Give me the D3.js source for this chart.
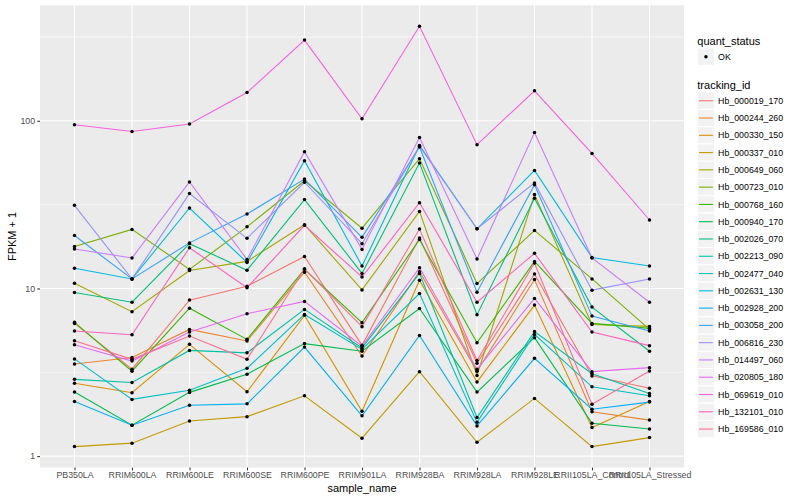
<!DOCTYPE html>
<html><head><meta charset="utf-8">
<script src="https://cdn.jsdelivr.net/npm/d3@7"></script>
<style>body{margin:0;background:#fff;} svg{display:block;font-family:"Liberation Sans",Arial,Helvetica,sans-serif;}</style>
</head><body><svg id="c" width="800" height="500"></svg>
<script>
// ---------- data ----------
const samples = ["PB350LA","RRIM600LA","RRIM600LE","RRIM600SE","RRIM600PE","RRIM901LA","RRIM928BA","RRIM928LA","RRIM928LE","RRII105LA_Control","RRII105LA_Stressed"];
const trackingIds = ["Hb_000019_170","Hb_000244_260","Hb_000330_150","Hb_000337_010","Hb_000649_060","Hb_000723_010","Hb_000768_160","Hb_000940_170","Hb_002026_070","Hb_002213_090","Hb_002477_040","Hb_002631_130","Hb_002928_200","Hb_003058_200","Hb_006816_230","Hb_014497_060","Hb_020805_180","Hb_069619_010","Hb_132101_010","Hb_169586_010"];
const quantStatus = ["OK"];
// FPKM + 1 values, one array per tracking id, in sample order
const Hb_000019_170 = [6.19, 3.30, 8.52, 10.3, 15.5, 4.58, 20.0, 3.58, 12.2, 3.01, 2.54];
const Hb_000244_260 = [3.54, 3.87, 5.70, 4.86, 12.5, 3.95, 12.6, 3.21, 11.3, 1.84, 1.64];
const Hb_000330_150 = [2.72, 2.39, 4.64, 2.42, 6.91, 1.85, 11.2, 2.77, 7.96, 1.48, 2.12];
const Hb_000337_010 = [1.14, 1.195, 1.62, 1.72, 2.29, 1.28, 3.19, 1.21, 2.21, 1.14, 1.29];
const Hb_000649_060 = [10.75, 7.27, 12.8, 14.5, 24.0, 9.8, 28.8, 3.03, 36.3, 6.10, 5.94];
const Hb_000723_010 = [17.8, 22.5, 13.0, 23.3, 43.9, 22.9, 59.4, 10.7, 22.2, 11.4, 5.70];
const Hb_000768_160 = [6.28, 3.21, 7.63, 4.97, 13.0, 6.25, 19.6, 4.74, 14.5, 6.19, 5.78];
const Hb_000940_170 = [2.41, 1.53, 2.40, 3.08, 4.69, 4.22, 7.60, 2.41, 5.09, 1.57, 1.45];
const Hb_002026_070 = [9.47, 8.28, 18.5, 12.85, 33.9, 12.3, 56.0, 6.97, 34.5, 7.74, 4.22];
const Hb_002213_090 = [2.87, 2.75, 4.27, 4.13, 7.50, 4.42, 12.3, 1.70, 5.53, 3.10, 2.36];
const Hb_002477_040 = [3.80, 2.18, 2.47, 3.34, 7.00, 4.33, 9.33, 1.59, 5.32, 2.59, 2.29];
const Hb_002631_130 = [13.2, 11.4, 30.2, 14.3, 57.8, 13.6, 71.3, 22.7, 50.6, 15.3, 13.6];
const Hb_002928_200 = [2.12, 1.53, 2.01, 2.05, 4.47, 1.74, 5.25, 1.515, 3.83, 1.905, 2.10];
const Hb_003058_200 = [20.7, 11.4, 18.7, 27.8, 44.9, 20.2, 69.7, 9.5, 41.6, 6.84, 5.58];
const Hb_006816_230 = [31.3, 11.4, 36.8, 19.9, 43.0, 18.5, 70.5, 22.7, 42.6, 9.77, 11.4];
const Hb_014497_060 = [17.2, 15.2, 43.2, 14.9, 65.4, 17.1, 79.6, 15.0, 85.2, 15.2, 8.28];
const Hb_020805_180 = [4.62, 3.69, 5.50, 7.07, 8.37, 4.52, 13.3, 3.30, 8.72, 3.19, 3.37];
const Hb_069619_010 = [94.7, 86.4, 95.6, 147.4, 303, 102.8, 366, 72.0, 150.9, 63.9, 25.6];
const Hb_132101_010 = [5.57, 5.30, 17.5, 10.1, 23.8, 11.7, 32.5, 8.28, 16.2, 5.50, 4.56];
const Hb_169586_010 = [4.88, 3.78, 5.20, 3.78, 13.1, 5.92, 22.6, 3.72, 14.2, 2.04, 3.22];
const yTickValues = [1, 10, 100];
const yTickLabels = ["1", "10", "100"];

// ggplot default hue palette for 20 levels
const palette = ["#F8766D","#EA8331","#D89000","#C09B00","#A3A500","#7CAE00","#39B600","#00BB4E","#00BF7D","#00C1A3","#00BFC4","#00BAE0","#00B0F6","#35A2FF","#9590FF","#C77CFF","#E76BF3","#FA62DB","#FF62BC","#FF6C91"];

const seriesValues = [Hb_000019_170,Hb_000244_260,Hb_000330_150,Hb_000337_010,Hb_000649_060,Hb_000723_010,Hb_000768_160,Hb_000940_170,Hb_002026_070,Hb_002213_090,Hb_002477_040,Hb_002631_130,Hb_002928_200,Hb_003058_200,Hb_006816_230,Hb_014497_060,Hb_020805_180,Hb_069619_010,Hb_132101_010,Hb_169586_010];
const series = trackingIds.map((id, i) => ({
  id, color: palette[i],
  values: samples.map((s, j) => ({ sample: s, value: seriesValues[i][j] }))
}));

// ---------- layout ----------
const W = 800, H = 500;
const panel = { left: 40, right: 684, top: 5.3, bottom: 467.6 };
const svg = d3.select("#c");
svg.append("rect").attr("width", W).attr("height", H).attr("fill", "#fff");

const x = d3.scalePoint().domain(samples).range([panel.left, panel.right]).padding(0.6);
const allVals = series.flatMap(s => s.values.map(d => d.value));
const lo = Math.log10(d3.min(allVals)), hi = Math.log10(d3.max(allVals));
const ex = (hi - lo) * 0.05;
const y = d3.scaleLog().domain([Math.pow(10, lo - ex), Math.pow(10, hi + ex)]).range([panel.bottom, panel.top]);

// panel background
svg.append("rect").attr("x", panel.left).attr("y", panel.top)
  .attr("width", panel.right - panel.left).attr("height", panel.bottom - panel.top)
  .attr("fill", "#EBEBEB");

const grid = svg.append("g");
// minor y grid (half decades)
const [d0, d1] = y.domain();
const minorY = [];
for (let e = Math.floor(Math.log10(d0)) - 1; e <= Math.ceil(Math.log10(d1)); e++) {
  const v = Math.pow(10, e + 0.5);
  if (v > d0 && v < d1) minorY.push(v);
}
grid.selectAll(".ymin").data(minorY).join("line")
  .attr("x1", panel.left).attr("x2", panel.right)
  .attr("y1", d => y(d)).attr("y2", d => y(d))
  .attr("stroke", "#fff").attr("stroke-width", 0.55);
grid.selectAll(".ymaj").data(yTickValues).join("line")
  .attr("x1", panel.left).attr("x2", panel.right)
  .attr("y1", d => y(d)).attr("y2", d => y(d))
  .attr("stroke", "#fff").attr("stroke-width", 1.07);
grid.selectAll(".xmaj").data(samples).join("line")
  .attr("x1", d => x(d)).attr("x2", d => x(d))
  .attr("y1", panel.top).attr("y2", panel.bottom)
  .attr("stroke", "#fff").attr("stroke-width", 1.07);

// lines
const line = d3.line().x(d => x(d.sample)).y(d => y(d.value));
svg.append("g").selectAll("path").data(series).join("path")
  .attr("d", d => line(d.values))
  .attr("fill", "none").attr("stroke", d => d.color).attr("stroke-width", 1.1);

// points
svg.append("g").selectAll("circle").data(series.flatMap(s => s.values)).join("circle")
  .attr("cx", d => x(d.sample)).attr("cy", d => y(d.value)).attr("r", 1.75)
  .attr("fill", "#000");

// axes
const yAxis = svg.append("g").attr("transform", `translate(${panel.left},0)`)
  .call(d3.axisLeft(y).tickValues(yTickValues).tickFormat((d, i) => yTickLabels[i]).tickSize(2.75).tickPadding(2.2));
const xAxis = svg.append("g").attr("transform", `translate(0,${panel.bottom})`)
  .call(d3.axisBottom(x).tickSize(2.75).tickPadding(1.4));
[yAxis, xAxis].forEach(a => {
  a.select(".domain").remove();
  a.selectAll(".tick line").attr("stroke", "#333333").attr("stroke-width", 1.07);
  a.selectAll(".tick text").attr("fill", "#4D4D4D").style("font-size", "8.8px")
    .style("font-family", '"Liberation Sans",Arial,sans-serif');
});

// axis titles
svg.append("text").attr("x", (panel.left + panel.right) / 2).attr("y", 491.5)
  .attr("text-anchor", "middle").style("font-size", "11px").attr("fill", "#000").text("sample_name");
svg.append("text").attr("transform", `translate(15.5,${(panel.top + panel.bottom) / 2}) rotate(-90)`)
  .attr("text-anchor", "middle").style("font-size", "11px").attr("fill", "#000").text("FPKM + 1");

// legends
const lg = svg.append("g");
const keyX = 697.3, keyS = 17.28, textX = keyX + keyS + 3.5;
lg.append("text").attr("x", keyX).attr("y", 44.6).style("font-size", "11px").text("quant_status");
lg.selectAll(".qk").data(quantStatus).join("rect")
  .attr("x", keyX).attr("y", (d, i) => 48 + i * keyS).attr("width", keyS).attr("height", keyS)
  .attr("fill", "#F2F2F2").attr("stroke", "#fff").attr("stroke-width", 1);
lg.selectAll(".qp").data(quantStatus).join("circle")
  .attr("cx", keyX + keyS / 2).attr("cy", (d, i) => 48 + keyS / 2 + i * keyS).attr("r", 1.75).attr("fill", "#000");
lg.selectAll(".qt").data(quantStatus).join("text")
  .attr("x", textX).attr("y", (d, i) => 48 + keyS / 2 + i * keyS + 3.1)
  .style("font-size", "8.8px").text(d => d);

lg.append("text").attr("x", keyX).attr("y", 88.9).style("font-size", "11px").text("tracking_id");
const k0 = 92.1;
const keys = lg.selectAll(".tk").data(series).join("g")
  .attr("transform", (d, i) => `translate(${keyX},${k0 + i * keyS})`);
keys.append("rect").attr("width", keyS).attr("height", keyS)
  .attr("fill", "#F2F2F2").attr("stroke", "#fff").attr("stroke-width", 1);
keys.append("line").attr("x1", 1.7).attr("x2", keyS - 1.7).attr("y1", keyS / 2).attr("y2", keyS / 2)
  .attr("stroke", d => d.color).attr("stroke-width", 1.1);
keys.append("text").attr("x", keyS + 3.5).attr("y", keyS / 2 + 3.1)
  .style("font-size", "8.8px").text(d => d.id);
</script></body></html>
